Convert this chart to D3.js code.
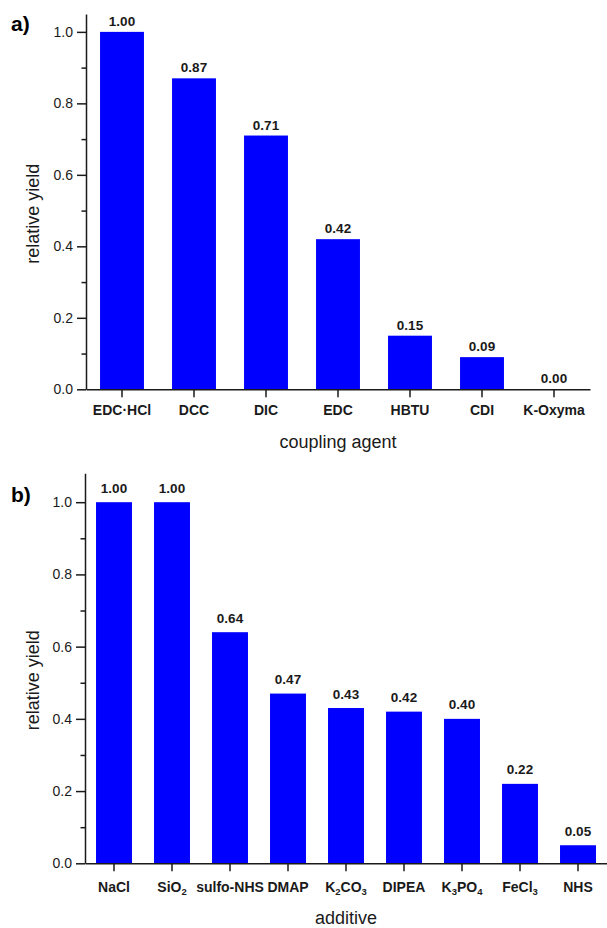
<!DOCTYPE html>
<html>
<head>
<meta charset="utf-8">
<script src="https://cdn.jsdelivr.net/npm/d3@7/dist/d3.min.js"></script>
<style>
  html, body { margin: 0; padding: 0; background: #fff; }
  svg { display: block; font-family: "Liberation Sans", Arial, sans-serif; }
</style>
</head>
<body>
<svg id="chart" width="607" height="928"></svg>
<script>
// Panel a: coupling agents
const agentNames = ["EDC·HCl", "DCC", "DIC", "EDC", "HBTU", "CDI", "K-Oxyma"];
const agentYield = [1.00, 0.87, 0.71, 0.42, 0.15, 0.09, 0.00];

// Panel b: additives ("_n" marks a subscript digit)
const additiveNames = ["NaCl", "SiO_2", "sulfo-NHS", "DMAP", "K_2CO_3", "DIPEA", "K_3PO_4", "FeCl_3", "NHS"];
const additiveYield = [1.00, 1.00, 0.64, 0.47, 0.43, 0.42, 0.40, 0.22, 0.05];

// Shared y-axis ticks
const yMajorTicks = [0, 0.2, 0.4, 0.6, 0.8, 1.0];
const yMinorTicks = [0.1, 0.3, 0.5, 0.7, 0.9];

const panels = [
  {
    tag: "a)", tagPos: [11, 31],
    names: agentNames, values: agentYield,
    yMax: 1.05, xRange: [86, 590], yRange: [389.3, 14],
    padding: 0.39, labelGap: 6, tickPad: 8,
    yTitle: "relative yield", yTitlePos: [39, 213.7],
    xTitle: "coupling agent", xTitlePos: [338, 448]
  },
  {
    tag: "b)", tagPos: [11, 501.7],
    names: additiveNames, values: additiveYield,
    yMax: 1.08, xRange: [85, 607], yRange: [863.3, 473.3],
    padding: 0.38, labelGap: 9.5, tickPad: 10.5,
    yTitle: "relative yield", yTitlePos: [39, 680.3],
    xTitle: "additive", xTitlePos: [346, 923.5]
  }
];

const FONT = "\"Liberation Sans\", Arial, sans-serif";
const svg = d3.select("#chart");
const ink = "#1a1a1a";
const barColor = "#0000ff";

// Writes a label into a <text>, turning "_n" into subscript tspans
function writeFormula(textSel, label) {
  textSel.text(null);
  const parts = label.split(/(_\d)/).filter(s => s.length);
  let lowered = false;
  parts.forEach(p => {
    if (p.startsWith("_")) {
      textSel.append("tspan")
        .attr("font-size", "9.5px")
        .attr("dy", "3")
        .text(p.slice(1));
      lowered = true;
    } else {
      const t = textSel.append("tspan").text(p);
      if (lowered) { t.attr("dy", "-3"); lowered = false; }
    }
  });
}

panels.forEach(p => {
  const g = svg.append("g");
  const x = d3.scaleBand()
    .domain(p.names)
    .range(p.xRange)
    .paddingInner(p.padding)
    .paddingOuter(p.padding / 2);
  const y = d3.scaleLinear().domain([0, p.yMax]).range(p.yRange);
  const y0 = y(0);

  // bars
  g.selectAll("rect.bar")
    .data(p.values)
    .join("rect")
    .attr("class", "bar")
    .attr("x", (d, i) => x(p.names[i]))
    .attr("width", x.bandwidth())
    .attr("y", d => y(d))
    .attr("height", d => y0 - y(d))
    .attr("fill", barColor);

  // value labels
  g.selectAll("text.val")
    .data(p.values)
    .join("text")
    .attr("class", "val")
    .attr("x", (d, i) => x(p.names[i]) + x.bandwidth() / 2)
    .attr("y", d => y(d) - p.labelGap)
    .attr("text-anchor", "middle")
    .attr("font-family", FONT)
    .attr("font-size", "13.5px")
    .attr("font-weight", "bold")
    .attr("fill", ink)
    .text(d => d.toFixed(2));

  // minor y ticks
  const minor = g.append("g")
    .attr("transform", `translate(${p.xRange[0]},0)`)
    .call(d3.axisLeft(y).tickValues(yMinorTicks).tickSize(4.5).tickFormat(""));
  minor.select(".domain").remove();
  minor.selectAll("text").remove();
  minor.selectAll("line").attr("stroke", ink).attr("stroke-width", 1.5);

  // major y ticks and axis line
  const yAxis = g.append("g")
    .attr("transform", `translate(${p.xRange[0]},0)`)
    .call(d3.axisLeft(y).tickValues(yMajorTicks).tickSize(9).tickSizeOuter(0).tickPadding(4)
      .tickFormat(d3.format(".1f")));
  yAxis.select(".domain").attr("stroke", ink).attr("stroke-width", 1.5);
  yAxis.selectAll("line").attr("stroke", ink).attr("stroke-width", 1.5);
  yAxis.selectAll("text")
    .attr("font-size", "14px")
    .attr("font-family", FONT)
    .attr("fill", ink);

  // x axis
  const xAxis = g.append("g")
    .attr("transform", `translate(0,${y0})`)
    .call(d3.axisBottom(x).tickSize(8).tickSizeOuter(0).tickPadding(p.tickPad));
  xAxis.select(".domain").attr("stroke", ink).attr("stroke-width", 1.5);
  xAxis.selectAll("line").attr("stroke", ink).attr("stroke-width", 1.5);
  xAxis.selectAll("text")
    .attr("font-size", "14px")
    .attr("font-weight", "bold")
    .attr("font-family", FONT)
    .attr("fill", ink)
    .each(function(d) { writeFormula(d3.select(this), d); });

  // axis titles
  g.append("text")
    .attr("transform", `translate(${p.yTitlePos[0]},${p.yTitlePos[1]}) rotate(-90)`)
    .attr("text-anchor", "middle")
    .attr("font-family", FONT)
    .attr("font-size", "18px")
    .attr("fill", ink)
    .text(p.yTitle);

  g.append("text")
    .attr("x", p.xTitlePos[0])
    .attr("y", p.xTitlePos[1])
    .attr("text-anchor", "middle")
    .attr("font-family", FONT)
    .attr("font-size", "18px")
    .attr("fill", ink)
    .text(p.xTitle);

  // panel tag
  g.append("text")
    .attr("x", p.tagPos[0])
    .attr("y", p.tagPos[1])
    .attr("font-family", FONT)
    .attr("font-size", "21px")
    .attr("font-weight", "bold")
    .attr("fill", "#000")
    .text(p.tag);
});
</script>
</body>
</html>
